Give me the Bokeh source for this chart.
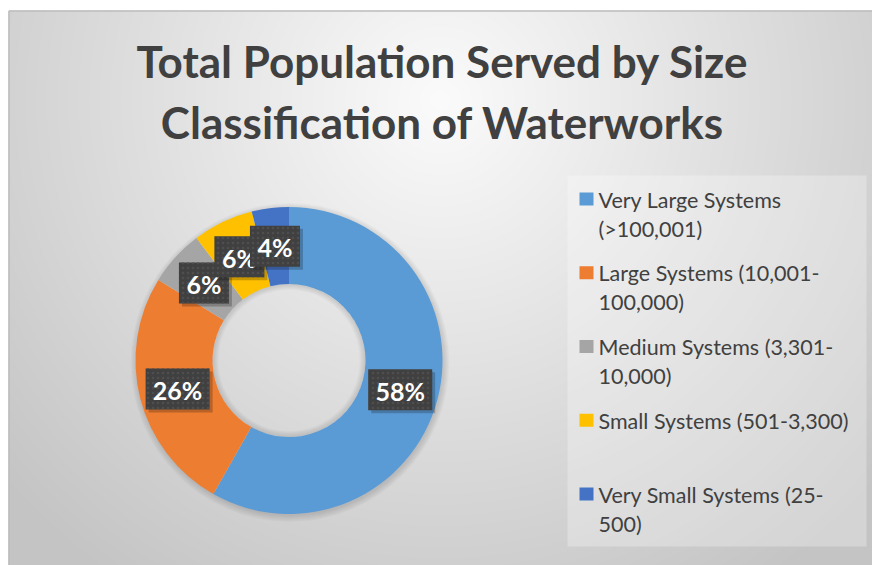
import numpy as np
from bokeh.plotting import figure
from bokeh.models import Range1d, ColumnDataSource
from bokeh.core.properties import value
from bokeh.embed import file_html
from bokeh.resources import INLINE

# ---------------- data ----------------
title_lines = ["Total Population Served by Size", "Classification of Waterworks"]
categories = [
    "Very Large Systems (>100,001)",
    "Large Systems (10,001-100,000)",
    "Medium Systems (3,301-10,000)",
    "Small Systems (501-3,300)",
    "Very Small Systems (25-500)",
]
legend_lines = [
    ["Very Large Systems", "(>100,001)"],
    ["Large Systems (10,001-", "100,000)"],
    ["Medium Systems (3,301-", "10,000)"],
    ["Small Systems (501-3,300)"],
    ["Very Small Systems (25-", "500)"],
]
shares = [58.2, 25.6, 5.9, 6.4, 3.9]
colors = ["#5B9BD5", "#ED7D31", "#A5A5A5", "#FFC000", "#4472C4"]

# ---------------- layout helpers (page pixel coords) ----------------
W, H = 872, 565
def Y(py):
    return H - py

p = figure(width=W, height=H, x_range=Range1d(0, W), y_range=Range1d(0, H),
           x_axis_type=None, y_axis_type=None, output_backend="svg",
           toolbar_location=None, min_border=0, border_fill_color="white",
           background_fill_color="white", outline_line_color=None)
p.grid.visible = False

# background radial gradient
x0b, top_b = 8, 10
bw, bh = W - x0b, H - top_b
px = np.arange(bw) + x0b + 0.5
py = H - (np.arange(bh) + 0.5)
PX, PY = np.meshgrid(px, py)
d = np.sqrt(((PX - 440) / 490.0) ** 2 + ((PY - 100) / 490.0) ** 2)
v = np.clip(251 - 46 * d, 196, 251).astype(np.uint32)
img = (255 << 24) | (v << 16) | (v << 8) | v
p.image_rgba(image=[img.astype(np.uint32)], x=x0b, y=0, dw=bw, dh=bh)

# chart border (top and left)
p.segment(x0=[8.5, 8.5], y0=[Y(10.5), Y(10.5)], x1=[W, 8.5], y1=[Y(10.5), 0],
          line_color="#bcbcbc", line_width=1.5)

# title
for i, t in enumerate(title_lines):
    p.text(x=[442], y=[Y(60 + 61 * i)], text=[t], text_align="center",
           text_baseline="middle", text_font=value("Lato"), text_font_style="bold",
           text_font_size="44px", text_color="#404040")

# donut
cx, cy = 288.5, Y(360)
r_in, r_out = 76.5, 153.5
# soft shadow
for k in range(7):
    p.annulus(x=[cx + 1], y=[cy - 2], inner_radius=r_out - 3, outer_radius=r_out + k,
              fill_color="black", fill_alpha=0.02, line_color=None)
frac = np.array(shares) / np.sum(shares)
cum = np.concatenate([[0], np.cumsum(frac)])
starts = np.pi / 2 - 2 * np.pi * cum[:-1]
ends = np.pi / 2 - 2 * np.pi * cum[1:]
src = ColumnDataSource(dict(start=starts, end=ends, color=colors, cat=categories))
p.annular_wedge(x=cx, y=cy, inner_radius=r_in, outer_radius=r_out, start_angle="start",
                end_angle="end", direction="clock", fill_color="color", line_color=None,
                source=src)
# inner shadow in hole
for k in range(6):
    p.annulus(x=[cx], y=[cy], inner_radius=r_in - 1 - k, outer_radius=r_in,
              fill_color="black", fill_alpha=0.018, line_color=None)

# data labels
mids = np.pi / 2 - 2 * np.pi * (cum[:-1] + frac / 2)
r_mid = (r_in + r_out) / 2
lx = cx + r_mid * np.cos(mids)
ly = cy + r_mid * np.sin(mids)
labels = [f"{round(s)}%" for s in shares]
bwid = [22 + 14 * len(s) for s in labels]
for i in range(len(labels)):
    p.rect(x=[lx[i] + 3], y=[ly[i] - 3], width=bwid[i], height=41,
           fill_color="black", fill_alpha=0.22, line_color=None)
    p.rect(x=[lx[i]], y=[ly[i]], width=bwid[i], height=41, fill_color="#404040",
           line_color=None, hatch_pattern="dot", hatch_color="#4e4e4e",
           hatch_scale=5, hatch_weight=1)
    p.text(x=[lx[i]], y=[ly[i] - 1], text=[labels[i]], text_align="center",
           text_baseline="middle", text_font=value("Lato"), text_font_style="bold",
           text_font_size="25px", text_color="white")

# legend
p.quad(left=[567], right=[866], top=[Y(175)], bottom=[Y(546)], fill_color="white",
       fill_alpha=0.28, line_color=None)
for i, lines in enumerate(legend_lines):
    yc = 198.5 + i * 73.75
    p.rect(x=[586], y=[Y(yc)], width=14, height=13, fill_color=colors[i], line_color=None)
    for j, ln in enumerate(lines):
        p.text(x=[598], y=[Y(yc + 0.5 + 29 * j)], text=[ln], text_align="left",
               text_baseline="middle", text_font=value("Lato"),
               text_font_size="21.5px", text_color="#404040")

open("out.html", "w").write(file_html(p, INLINE))
